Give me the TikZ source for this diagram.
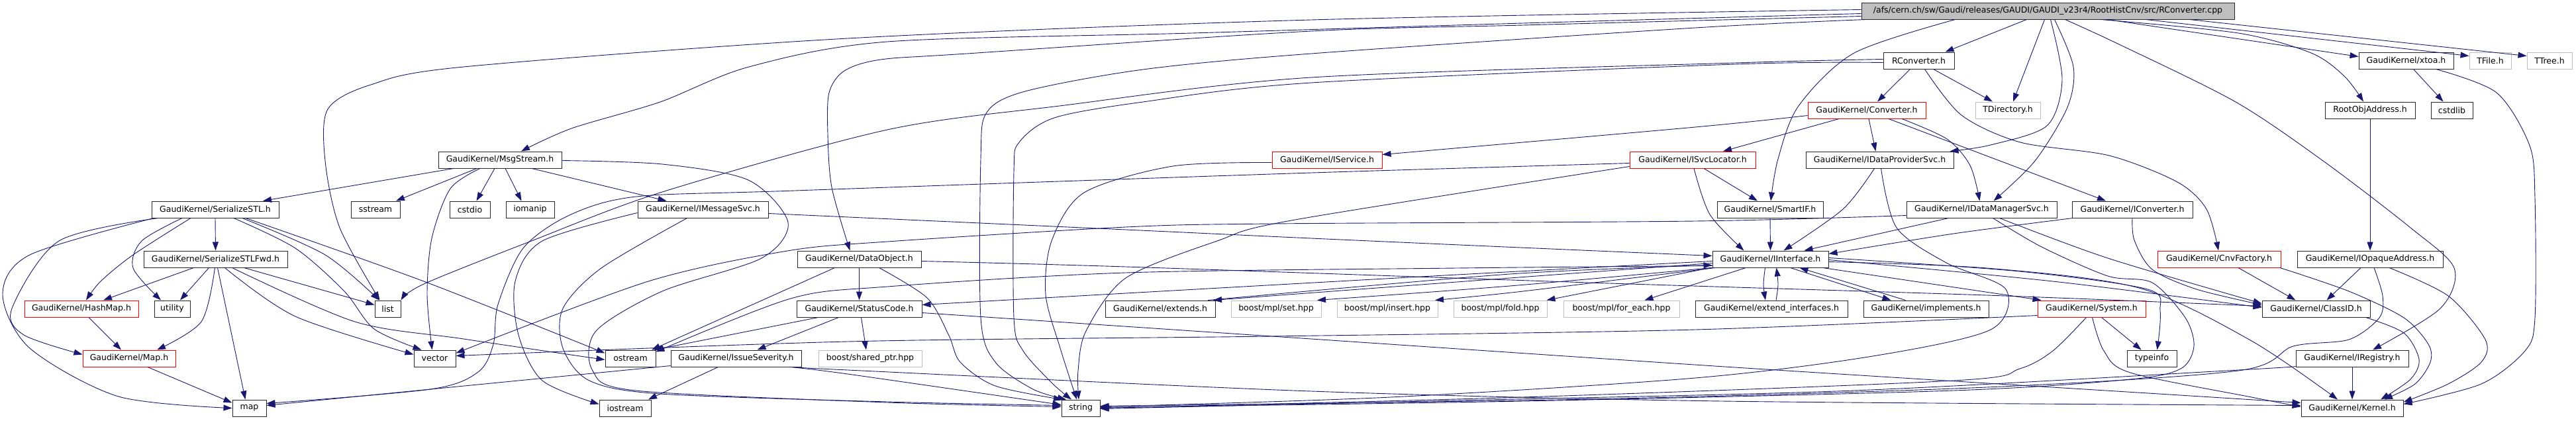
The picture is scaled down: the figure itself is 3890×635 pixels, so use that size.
\documentclass[tikz,border=0pt]{standalone}
\usepackage{fontspec}
\setmainfont{DejaVu Sans}
\usetikzlibrary{arrows.meta}
\definecolor{edgc}{HTML}{191970}
\definecolor{gry}{HTML}{BFBFBF}
\newcommand{\cnx}[1]{\draw[edg] plot[smooth,tension=0.5] coordinates {#1};}
\begin{document}
\begin{tikzpicture}[x=1pt,y=-1pt,
 bx/.style={draw=black!85, line width=1pt, minimum height=25pt, inner sep=0pt, fill=white, font=\fontsize{12.5}{15}\selectfont, text=black},
 rb/.style={bx, draw=red},
 gb/.style={bx, draw=gry},
 rootb/.style={bx, fill=gry},
 edg/.style={draw=edgc, line width=0.9pt, -{Triangle[length=13pt,width=9pt]}},
]
\useasboundingbox (0,0) rectangle (3890,635);
\fill[white] (0,0) rectangle (3890,635);
% nodes
\node[rootb, minimum width=563] (R) at (3092.5,16.5) {/afs/cern.ch/sw/Gaudi/releases/GAUDI/GAUDI\_v23r4/RootHistCnv/src/RConverter.cpp};
\node[bx, minimum width=107] (RC) at (2897.5,91.5) {RConverter.h};
\node[bx, minimum width=143] (XT) at (3633.5,91.5) {GaudiKernel/xtoa.h};
\node[gb, minimum width=63] (TF) at (3760.5,91.5) {TFile.h};
\node[gb, minimum width=68] (TT) at (3850,91.5) {TTree.h};
\node[rb, minimum width=178] (CV) at (2819,166.5) {GaudiKernel/Converter.h};
\node[gb, minimum width=98] (TD) at (3032,166.5) {TDirectory.h};
\node[bx, minimum width=136] (ROA) at (3579,166.5) {RootObjAddress.h};
\node[bx, minimum width=63] (CSL) at (3702.5,166.5) {cstdlib};
\node[bx, minimum width=186] (MS) at (755,241.5) {GaudiKernel/MsgStream.h};
\node[rb, minimum width=166] (IS) at (2004,241.5) {GaudiKernel/IService.h};
\node[rb, minimum width=190] (ISL) at (2556,241.5) {GaudiKernel/ISvcLocator.h};
\node[bx, minimum width=223] (IDP) at (2838.5,241.5) {GaudiKernel/IDataProviderSvc.h};
\node[bx, minimum width=192] (SS) at (325,316.5) {GaudiKernel/SerializeSTL.h};
\node[bx, minimum width=74] (SST) at (567,316.5) {sstream};
\node[bx, minimum width=61] (CIO) at (709.5,316.5) {cstdio};
\node[bx, minimum width=73] (IOM) at (800.5,316.5) {iomanip};
\node[bx, minimum width=197] (IMS) at (1061.5,316.5) {GaudiKernel/IMessageSvc.h};
\node[bx, minimum width=160] (SIF) at (2673,316.5) {GaudiKernel/SmartIF.h};
\node[bx, minimum width=227] (IDM) at (2992.5,316.5) {GaudiKernel/IDataManagerSvc.h};
\node[bx, minimum width=182] (ICV) at (3220,316.5) {GaudiKernel/IConverter.h};
\node[bx, minimum width=217] (SF) at (325.5,391.5) {GaudiKernel/SerializeSTLFwd.h};
\node[bx, minimum width=187] (DO) at (1297.5,391.5) {GaudiKernel/DataObject.h};
\node[bx, minimum width=175] (II) at (2673.5,391.5) {GaudiKernel/IInterface.h};
\node[rb, minimum width=186] (CF) at (3351,391.5) {GaudiKernel/CnvFactory.h};
\node[bx, minimum width=220] (IOA) at (3579,391.5) {GaudiKernel/IOpaqueAddress.h};
\node[rb, minimum width=172] (HM) at (123,466.5) {GaudiKernel/HashMap.h};
\node[bx, minimum width=54] (UT) at (260,466.5) {utility};
\node[bx, minimum width=39] (LI) at (585.5,466.5) {list};
\node[bx, minimum width=189] (SC) at (1297.5,466.5) {GaudiKernel/StatusCode.h};
\node[bx, minimum width=166] (EX) at (1752,466.5) {GaudiKernel/extends.h};
\node[gb, minimum width=136] (BS) at (1927,466.5) {boost/mpl/set.hpp};
\node[gb, minimum width=152] (BI) at (2095,466.5) {boost/mpl/insert.hpp};
\node[gb, minimum width=141] (BF) at (2265.5,466.5) {boost/mpl/fold.hpp};
\node[gb, minimum width=175] (BE) at (2448.5,466.5) {boost/mpl/for\_each.hpp};
\node[bx, minimum width=230] (EI) at (2675,466.5) {GaudiKernel/extend\_interfaces.h};
\node[bx, minimum width=189] (IM) at (2908.5,466.5) {GaudiKernel/implements.h};
\node[rb, minimum width=163] (SY) at (3158.5,466.5) {GaudiKernel/System.h};
\node[bx, minimum width=163] (CID) at (3497.5,466.5) {GaudiKernel/ClassID.h};
\node[rb, minimum width=140] (MP) at (195,541.5) {GaudiKernel/Map.h};
\node[bx, minimum width=63] (VE) at (656.5,541.5) {vector};
\node[bx, minimum width=76] (OS) at (952,541.5) {ostream};
\node[bx, minimum width=197] (ISV) at (1111.5,541.5) {GaudiKernel/IssueSeverity.h};
\node[gb, minimum width=156] (SP) at (1314,541.5) {boost/shared\_ptr.hpp};
\node[bx, minimum width=75] (TI) at (3249.5,541.5) {typeinfo};
\node[bx, minimum width=170] (IR) at (3552,541.5) {GaudiKernel/IRegistry.h};
\node[bx, minimum width=51] (MA) at (376.5,616.5) {map};
\node[bx, minimum width=78] (IOS) at (944,616.5) {iostream};
\node[bx, minimum width=58] (ST) at (1632,616.5) {string};
\node[bx, minimum width=154] (KE) at (3552,616.5) {GaudiKernel/Kernel.h};
% root edges
\cnx{([xshift=-32]R.south) ([xshift=40]RC.north)}
\cnx{([xshift=-5]R.south) ([xshift=8]TD.north)}
\cnx{([xshift=4]R.south) (3114,121) (3091,190) (3006,219) ([xshift=106]IDP.north)}
\cnx{([xshift=10]R.south) (3131,101) (3122,162) (3073,243) ([xshift=18]IDM.north)}
\cnx{([xshift=-140]R.south) (2800,80) (2716,160) (2685,240) ([xshift=1]SIF.north)}
\cnx{([xshift=90]R.south) ([yshift=6]XT.west)}
\cnx{([xshift=80]R.south) (3380,50) (3490,80) (3540,115) ([xshift=-10]ROA.north)}
\cnx{([xshift=148]R.south) ([yshift=7]TF.west)}
\cnx{([xshift=214]R.south) ([yshift=7]TT.west)}
\cnx{([xshift=26]R.south) (3200,67) (3376,154) (3508,243) (3640,344) (3706,405) (3685,466) ([xshift=31]IR.north)}
\cnx{([yshift=-4]R.west) (2300,35) (1800,50) (1340,63) (1131,101) (997,154) (863,194) ([xshift=32]MS.north)}
\cnx{([yshift=2]R.west) (1980,30) (1280,58) (700,101) (560,128) (495,165) (491,243) (513,344) ([xshift=-12]LI.north)}
\cnx{([yshift=-8]R.west) (2300,38) (1980,47) (1460,81) (1330,90) (1275,107) (1252,140) (1250,202) (1256,283) ([xshift=-14]DO.north)}
\cnx{([xshift=-275]R.south) (2560,42) (1980,81) (1726,105) (1548,138) (1490,170) (1481,240) (1481,480) (1503,547) (1560,588) ([xshift=-22]ST.north)}
% RConverter.h
\cnx{([xshift=-13]RC.south) ([xshift=16]CV.north)}
\cnx{([xshift=22]RC.south) ([xshift=-23]TD.north)}
\cnx{([xshift=9]RC.south) (2962,174) (3051,215) (3185,235) (3288,275) (3332,316) ([xshift=-1]CF.north)}
\cnx{([yshift=-3]RC.west) (2620,97) (1980,125) (1726,154) (1592,178) (1539,215) (1531,260) (1531,480) (1545,530) (1590,580) ([xshift=-14]ST.north)}
\cnx{([yshift=2]RC.west) (2620,95) (1980,117) (1600,160) (1340,196) (1000,290) (800,365) (640,429) (LI.north east)}
% Converter.h
\cnx{([yshift=-8]CV.west) (2560,192) ([yshift=8]IS.east)}
\cnx{([xshift=-42]CV.south) ([xshift=46]ISL.north)}
\cnx{([xshift=3]CV.south) ([xshift=-6]IDP.north)}
\cnx{([xshift=53]CV.south) (2940,210) (2975,250) ([xshift=-3]IDM.north)}
\cnx{([xshift=33]CV.south) ([xshift=-40]ICV.north)}
% xtoa, RootObjAddress
\cnx{([xshift=11]XT.south) ([xshift=-13]CSL.north)}
\cnx{([xshift=45]XT.south) (3770,140) (3820,220) (3828,300) (3828,480) (3813,530) (3747,580) ([yshift=6]KE.east)}
\draw[edg] (ROA.south) -- (IOA.north);
% MsgStream.h
\cnx{([xshift=-70]MS.south) ([xshift=72]SS.north)}
\cnx{([xshift=-35]MS.south) ([xshift=31]SST.north)}
\cnx{([xshift=-8]MS.south) ([xshift=10]CIO.north)}
\cnx{([xshift=8]MS.south) ([xshift=-13]IOM.north)}
\cnx{([xshift=48]MS.south) ([xshift=-55]IMS.north)}
\cnx{([xshift=-30]MS.south) (680,285) (652,360) (645,445) ([xshift=-4]VE.north)}
\cnx{([yshift=-1]MS.east) (1000,248) (1130,272) (1190,336) (1150,390) (1000,440) (900,500) (895,560) (960,590) (1340,608) ([yshift=2]ST.west)}
% IMessageSvc.h
\cnx{([yshift=-5]IMS.west) (819,364) (778,425) (783,506) (819,575) ([yshift=6]IOS.west)}
\cnx{([xshift=-24]IMS.south) (908,405) (850,466) (850,526) (890,575) (997,595) (1340,607) ([yshift=4]ST.west)}
\cnx{([yshift=-6]IMS.east) (1700,347) (1980,360) (2250,372) ([yshift=5]II.west)}
% IssueSeverity.h
\cnx{([xshift=-27]ISV.south) ([xshift=35]IOS.north)}
\cnx{([yshift=-11]ISV.west) (640,589) ([yshift=4]MA.east)}
\cnx{([xshift=82]ISV.south) (1280,565) ([yshift=5]ST.west)}
\cnx{([xshift=90]ISV.south) (1280,559) (1980,591) (2600,606) ([yshift=4]KE.west)}
% StatusCode.h
\cnx{([xshift=-62]SC.south) ([xshift=36]OS.north)}
\cnx{([xshift=-31]SC.south) ([xshift=32]ISV.north)}
\cnx{([xshift=3]SC.south) ([xshift=-6]SP.north)}
\cnx{([yshift=-6]SC.east) (1980,512) (2620,555) (3260,595) ([yshift=8]KE.west)}
% DataObject.h
\draw[edg] (DO.south) -- (SC.north);
\cnx{([xshift=-37]DO.south) ([xshift=32]OS.north)}
\cnx{([xshift=30]DO.south) (1400,450) (1433,507) (1450,547) (1503,583) ([xshift=-28]ST.north)}
\cnx{([yshift=-3]DO.east) (1700,403) (2400,427) (3000,446) ([yshift=4]CID.west)}
% SerializeSTL.h
\draw[edg] (SS.south) -- (SF.north);
\cnx{([xshift=-37]SS.south) (201,385) (152,425) ([xshift=7]HM.north)}
\cnx{([xshift=-50]SS.south) (214,364) (201,405) ([xshift=-17]UT.north)}
\cnx{([xshift=-86]SS.south) (89,364) (18,466) (36,506) ([yshift=6]MP.west)}
\cnx{([xshift=-93]SS.south) (45,385) (4,445) (45,526) (179,599) (MA.west)}
\cnx{([xshift=28]SS.south) (446,375) (520,440) (565,497) ([xshift=-20]VE.north)}
\cnx{([xshift=41]SS.south) (491,385) ([xshift=-13]LI.north)}
\cnx{([xshift=46]SS.south) (640,425) ([yshift=8]OS.west)}
% SerializeSTLFwd.h
\cnx{([xshift=-33]SF.south) ([xshift=33]HM.north)}
\cnx{([xshift=-10]SF.south) ([xshift=12]UT.north)}
\cnx{([xshift=-1]SF.south) (304,486) ([xshift=42]MP.north)}
\cnx{([xshift=3]SF.south) ([xshift=-6]MA.north)}
\cnx{([xshift=14]SF.south) (446,478) ([yshift=6]VE.west)}
\cnx{([xshift=25]SF.south) (536,486) (700,512) ([yshift=-2]OS.west)}
\cnx{([xshift=43]SF.south) ([yshift=6]LI.west)}
\cnx{([xshift=11]HM.south) ([xshift=-12]MP.north)}
\cnx{([xshift=28]MP.south) ([yshift=8]MA.west)}
% IService.h, ISvcLocator.h
\cnx{([yshift=-4]IS.west) (1771,251) (1637,291) (1588,364) (1579,445) (1601,526) ([xshift=-6]ST.north)}
\cnx{([xshift=17]ISL.south) ([xshift=-19]SIF.north)}
\cnx{([xshift=2]ISL.south) (2582,324) ([xshift=-40]II.north)}
\cnx{([yshift=-5]ISL.west) (1950,262) (1200,288) (961,297) (860,325) (790,375) (752,460) (745,520) (722,562) (650,588) ([yshift=7]MA.east)}
\cnx{([yshift=-10]ISL.west) (1950,333) (1838,364) (1700,420) (1640,500) (1628,560) ([xshift=-3]ST.north)}
% IDataProviderSvc.h, SmartIF.h
\cnx{([xshift=-8]IDP.south) (2783,316) ([xshift=20]II.north)}
\cnx{([xshift=2]IDP.south) (2864,344) (2939,397) (3029,437) (3006,498) (2828,538) (2560,571) (2100,600) ([yshift=2]ST.east)}
\draw[edg] (SIF.south) -- (II.north);
% IDataManagerSvc.h
\cnx{([xshift=-50]IDM.south) ([xshift=51]II.north)}
\cnx{([yshift=-9]IDM.west) (2560,334) (1920,338) (1700,343) (1340,365) (1189,379) (979,425) ([yshift=8]VE.east)}
\cnx{([xshift=17]IDM.south) (3083,373) (3183,417) (3250,427) (3300,480) (3313,523) (3293,557) (3217,573) (2950,590) (2300,606) ([yshift=1]ST.east)}
\cnx{([xshift=27]IDM.south) (3183,390) ([yshift=8]CID.west)}
% IConverter.h
\cnx{([xshift=-90]ICV.south) (2950,353) ([yshift=8]II.east)}
\cnx{(ICV.south) (3223,363) (3250,407) (3317,437) ([yshift=6]CID.west)}
% CnvFactory.h, IOpaqueAddress.h
\cnx{([xshift=29]CF.south) ([xshift=-31]CID.north)}
\cnx{([xshift=92]CF.south) (3547,440) (3630,480) (3667,520) (3670,547) (3647,580) ([xshift=48]KE.north)}
\cnx{([xshift=-14]IOA.south) ([xshift=16]CID.north)}
\cnx{([xshift=6]IOA.south) (3598,447) (3593,480) (3547,513) (3463,523) (3380,560) (3000,585) (2400,603) ([yshift=3]ST.east)}
\cnx{([xshift=29]IOA.south) (3697,447) (3753,513) (3747,547) (3697,580) ([yshift=9]KE.east)}
% IInterface.h
\cnx{([xshift=-8]II.south) (2663,430) ([xshift=-9]EI.north)}
\cnx{([xshift=7]EI.north) (2685,430) ([xshift=9]II.south)}
\cnx{([xshift=30]II.south) ([xshift=-53]IM.north)}
\cnx{([xshift=-31]IM.north) ([xshift=44]II.south)}
\cnx{([xshift=79]II.south) ([xshift=-76]SY.north)}
\cnx{([yshift=-1]II.east) (3100,425) ([yshift=2]CID.west)}
\cnx{([yshift=-4]II.east) (3000,405) (3230,435) (3400,515) ([xshift=-22]KE.north)}
\cnx{([yshift=2]II.east) (3050,410) (3243,437) (3262,470) ([xshift=8]TI.north)}
\cnx{([yshift=-3]II.west) (2200,415) (1700,443) ([yshift=6]SC.east)}
\cnx{([yshift=-6]II.west) (2280,420) ([xshift=80]EX.north)}
\cnx{([xshift=72]EX.north) (2280,414) ([yshift=-9]II.west)}
\cnx{(II.south west) (2280,432) ([xshift=62]BS.north)}
\cnx{([xshift=5]II.south west) (2300,440) ([xshift=72]BI.north)}
\cnx{([xshift=-2]II.south west) ([xshift=70]BF.north)}
\cnx{([xshift=51]II.south west) ([xshift=35]BE.north)}
\cnx{([yshift=-10]II.west) (2200,405) (1700,412) (1340,433) (1194,451) ([yshift=10]OS.east)}
% System.h
\cnx{([xshift=15]SY.south) ([xshift=-16]TI.north)}
\cnx{([xshift=1]SY.south) (3177,530) (3217,563) (3400,600) ([yshift=2]KE.west)}
\cnx{([xshift=-8]SY.south) (3100,530) (3050,557) (2950,575) (2300,600) (ST.east)}
\cnx{([yshift=-10]SY.west) (2560,498) (1920,508) (1280,516) ([yshift=4]VE.east)}
% ClassID.h, IRegistry.h
\cnx{([xshift=75]CID.south) (3630,503) (3653,543) (3640,573) ([xshift=43]KE.north)}
\draw[edg] (IR.south) -- (KE.north);
\cnx{([yshift=-12]IR.west) (3380,559) (2800,590) (2200,605) ([yshift=-1]ST.east)}
\end{tikzpicture}
\end{document}
